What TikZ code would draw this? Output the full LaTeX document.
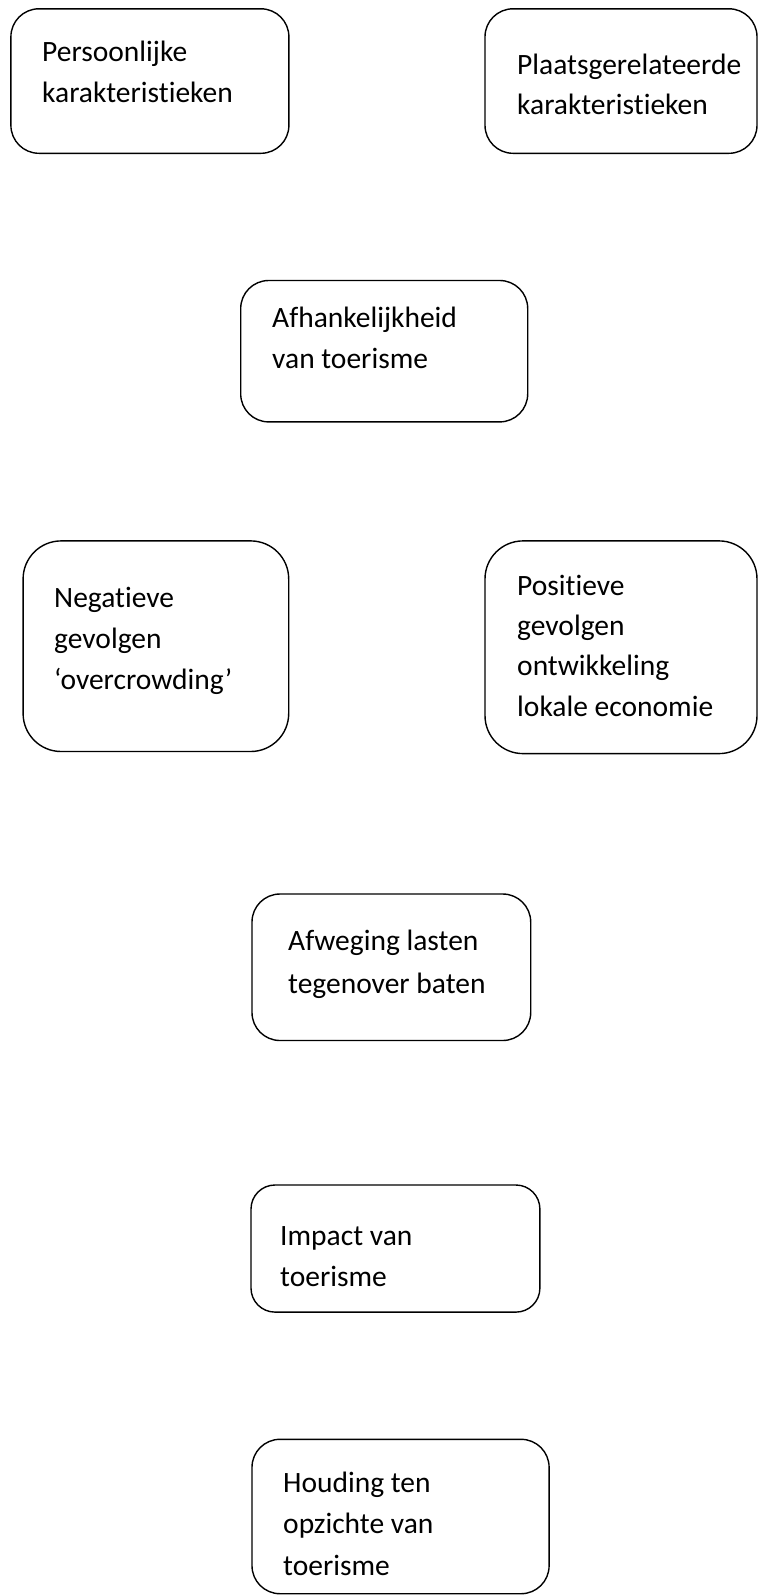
\documentclass[tikz,border=0pt]{standalone}
\usepackage{fontspec}
\setmainfont[Ligatures={NoCommon,NoRequired,NoContextual}]{Carlito}
\begin{document}
\begin{tikzpicture}[
  x=1pt, y=-1pt,
  box/.style={draw=black, line width=1.4pt, rounded corners=#1, inner sep=0pt, anchor=north west},
  box/.default=28pt,
  txt/.style={anchor=west, inner sep=0pt, font=\fontsize{29.5}{41}\selectfont, text height=0.75em, text depth=0.25em}
]
\useasboundingbox (0,0) rectangle (758,1596);
% boxes
\node[box, minimum width=278pt, minimum height=144.5pt] (b1) at (10.2,8.1) {};
\node[box, minimum width=272pt, minimum height=144.5pt] (b2) at (484.3,8.1) {};
\node[box, minimum width=287pt, minimum height=141.4pt] (b3) at (240,279.8) {};
\node[box=38pt, minimum width=265.6pt, minimum height=210.6pt] (b4) at (22.4,540.2) {};
\node[box=38pt, minimum width=272pt, minimum height=212.7pt] (b5) at (484.3,540.2) {};
\node[box, minimum width=278.7pt, minimum height=146.5pt] (b6) at (251.3,893.3) {};
\node[box=24pt, minimum width=288.9pt, minimum height=127.1pt] (b7) at (250.3,1184.3) {};
\node[box, minimum width=297.1pt, minimum height=154.4pt] (b8) at (251.3,1438.6) {};
% texts
\node[txt] (t1a) at (42,59) {Persoonlijke};
\node[txt] (t1b) at (42,100) {karakteristieken};
\node[txt] (t2a) at (517,72) {Plaatsgerelateerde};
\node[txt] (t2b) at (517,112) {karakteristieken};
\node[txt] (t3a) at (272,325) {Afhankelijkheid};
\node[txt] (t3b) at (272,366) {van toerisme};
\node[txt] (t4a) at (54,605) {Negatieve};
\node[txt] (t4b) at (54,646) {gevolgen};
\node[txt] (t4c) at (54,687) {‘overcrowding’};
\node[txt] (t5a) at (517,593) {Positieve};
\node[txt] (t5b) at (517,633) {gevolgen};
\node[txt] (t5c) at (517,673) {ontwikkeling};
\node[txt] (t5d) at (517,714) {lokale economie};
\node[txt] (t6a) at (288,948) {Afweging lasten};
\node[txt] (t6b) at (288,991) {tegenover baten};
\node[txt] (t7a) at (280,1243) {Impact van};
\node[txt] (t7b) at (280,1284) {toerisme};
\node[txt] (t8a) at (283,1490) {Houding ten};
\node[txt] (t8b) at (283,1531) {opzichte van};
\node[txt] (t8c) at (283,1573) {toerisme};
\end{tikzpicture}
\end{document}
